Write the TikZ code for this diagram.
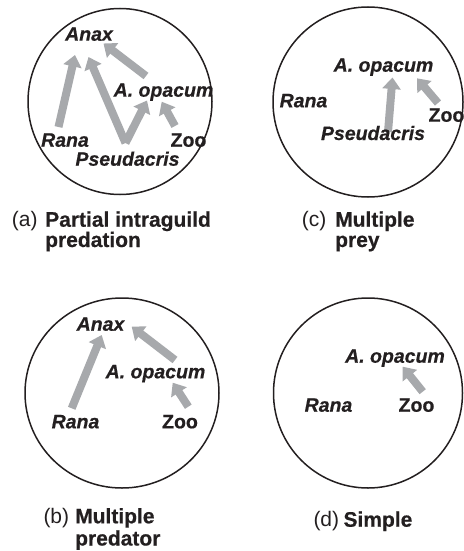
\documentclass[tikz,border=0pt]{standalone}
\usepackage{fontspec}
\setmainfont{Liberation Sans}[BoldFeatures={FakeBold=0.5}, BoldItalicFeatures={FakeBold=0.5}]
\usetikzlibrary{arrows.meta}
\definecolor{arrowgray}{HTML}{A7A9AC}
\definecolor{ink}{HTML}{231F20}
\begin{document}
\begin{tikzpicture}[x=1pt,y=-1pt,
  sp/.style={font=\fontsize{19.5}{21}\selectfont\bfseries\itshape, text=ink, inner sep=0pt, anchor=base},
  spu/.style={font=\fontsize{19.5}{21}\selectfont\bfseries, text=ink, inner sep=0pt, anchor=base},
  ring/.style={draw=ink, line width=1.5pt},
  flow/.style={draw=arrowgray, line width=8pt, line cap=butt, -{Triangle[length=11.5pt,width=18pt]}},
  tag/.style={font=\fontsize{21}{21}\selectfont, text=ink, inner sep=0pt, anchor=base west},
  capt/.style={font=\fontsize{21}{21}\selectfont\bfseries, text=ink, inner sep=0pt, anchor=base west},
]
\useasboundingbox (0,0) rectangle (463,551);

% rings
\draw[ring] (120,101.5) ellipse [x radius=92, y radius=93];
\draw[ring] (368,102) circle [radius=95];
\draw[ring] (122,393) ellipse [x radius=97, y radius=95];
\draw[ring] (368,393) ellipse [x radius=94.5, y radius=95];

% arrow end points
% (a)
\coordinate (a-rana-o) at (58.5,127);   \coordinate (a-anax-i1) at (75,55);
\coordinate (a-pseu-o) at (125.5,143);  \coordinate (a-anax-i2) at (88.5,57);
\coordinate (a-opac-i1) at (147,100.5);
\coordinate (a-opac-o) at (146,76);     \coordinate (a-anax-i3) at (103.5,43.5);
\coordinate (a-zoo-o) at (175,126);     \coordinate (a-opac-i2) at (161.7,101.7);
% (c)
\coordinate (c-pseu-o) at (388,132);    \coordinate (c-opac-i1) at (392.5,77.5);
\coordinate (c-zoo-o) at (438,103);     \coordinate (c-opac-i2) at (417,78.3);
% (b)
\coordinate (b-rana-o) at (71.7,408.3); \coordinate (b-anax-i1) at (101.7,335);
\coordinate (b-opac-o) at (175,360);    \coordinate (b-anax-i2) at (131.7,326.7);
\coordinate (b-zoo-o) at (188.3,406.7); \coordinate (b-opac-i) at (172.7,382.7);
% (d)
\coordinate (d-zoo-o) at (422.7,391.7); \coordinate (d-opac-i) at (402.7,366.7);

% arrows
\draw[flow] (a-rana-o) -- (a-anax-i1);
\draw[flow] (a-pseu-o) -- (a-anax-i2);
\draw[flow] (a-pseu-o) -- (a-opac-i1);
\draw[flow] (a-opac-o) -- (a-anax-i3);
\draw[flow] (a-zoo-o) -- (a-opac-i2);
\draw[flow] (c-pseu-o) -- (c-opac-i1);
\draw[flow] (c-zoo-o) -- (c-opac-i2);
\draw[flow] (b-rana-o) -- (b-anax-i1);
\draw[flow] (b-opac-o) -- (b-anax-i2);
\draw[flow] (b-zoo-o) -- (b-opac-i);
\draw[flow] (d-zoo-o) -- (d-opac-i);

% species labels
\node[sp] (a-anax) at (89,40.7) {Anax};
\node[sp] (a-opac) at (163.5,96.7) {A. opacum};
\node[sp] (a-rana) at (65,146.7) {Rana};
\node[spu] (a-zoo) at (188.5,146.7) {Zoo};
\node[sp] (a-pseu) at (127.5,165.7) {Pseudacris};

\node[sp] (c-opac) at (383.5,71.7) {A. opacum};
\node[sp] (c-rana) at (303.5,107.3) {Rana};
\node[spu] (c-zoo) at (446.5,121.7) {Zoo};
\node[sp] (c-pseu) at (373,140) {Pseudacris};

\node[sp] (b-anax) at (100.5,330.7) {Anax};
\node[sp] (b-opac) at (155.5,378.3) {A. opacum};
\node[sp] (b-rana) at (75.5,428.3) {Rana};
\node[spu] (b-zoo) at (180,428.3) {Zoo};

\node[sp] (d-opac) at (395,362.7) {A. opacum};
\node[sp] (d-rana) at (328.5,411.7) {Rana};
\node[spu] (d-zoo) at (416.5,411.7) {Zoo};

% captions
\node[tag] (a-tag) at (11.7,226.7) {(a)};
\node[capt] (a-cap1) at (45,226.7) {Partial intraguild};
\node[capt] (a-cap2) at (45,247) {predation};

\node[tag] (c-tag) at (301.7,226.7) {(c)};
\node[capt] (c-cap1) at (335,226.7) {Multiple};
\node[capt] (c-cap2) at (335,247) {prey};

\node[tag] (b-tag) at (43.3,523.3) {(b)};
\node[capt] (b-cap1) at (75,523.3) {Multiple};
\node[capt] (b-cap2) at (75,545.5) {predator};

\node[tag] (d-tag) at (313.3,526.7) {(d)};
\node[capt] (d-cap1) at (343.3,526.7) {Simple};
\end{tikzpicture}
\end{document}
